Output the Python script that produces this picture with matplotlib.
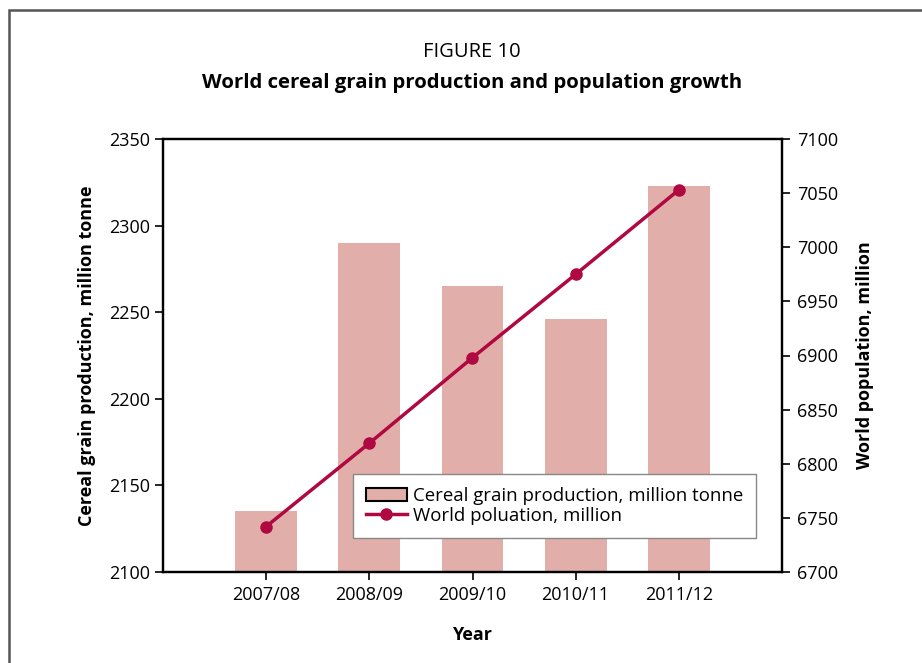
import matplotlib
matplotlib.use("Agg")
import matplotlib.pyplot as plt
from matplotlib.patches import Rectangle
from matplotlib.lines import Line2D
from matplotlib.patches import Patch

years = ["2007/08", "2008/09", "2009/10", "2010/11", "2011/12"]
cereal = [2135, 2290, 2265, 2246, 2323]
population = [6742, 6819, 6898, 6975, 7053]
left_ticks = [2100, 2150, 2200, 2250, 2300, 2350]
right_ticks = [6700, 6750, 6800, 6850, 6900, 6950, 7000, 7050, 7100]

plt.rcParams['font.family'] = ['Open Sans', 'DejaVu Sans']
W, H = 922, 663
fig = plt.figure(figsize=(W / 100, H / 100), dpi=100)

bar_color = "#E2AEAA"
line_color = "#B00840"

ax = fig.add_axes([163 / W, 1 - 572 / H, (782 - 163) / W, (572 - 139) / H])
x = list(range(len(years)))
ax.bar(x, cereal, width=0.6, color=bar_color, zorder=1)
ax.set_xlim(-1, 5)
ax.set_ylim(2100, 2350)
ax.set_yticks(left_ticks)
ax.set_xticks(x)
ax.set_xticklabels(years)
for s in ax.spines.values():
    s.set_linewidth(1.6)
ax.tick_params(axis='both', direction='out', length=6, width=1.2, labelsize=13, pad=4)
ax.tick_params(axis='y', pad=3)
ax.set_ylabel("Cereal grain production, million tonne", fontsize=13, fontweight='bold', labelpad=10)
ax.set_xlabel("Year", fontsize=13, fontweight='bold', labelpad=16)

ax2 = ax.twinx()
ax2.plot(x, population, color=line_color, lw=2.5, marker='o', markersize=8, zorder=3)
ax2.set_ylim(6700, 7100)
ax2.set_yticks(right_ticks)
ax2.tick_params(axis='y', direction='out', length=6, width=1.2, labelsize=13, pad=5)
for s in ax2.spines.values():
    s.set_linewidth(1.6)
ax2.set_ylabel("World population, million", fontsize=13, fontweight='bold', labelpad=13)

handles = [Patch(facecolor=bar_color, edgecolor='black', linewidth=1.5),
           Line2D([], [], color=line_color, lw=2.5, marker='o', markersize=8)]
labels = ["Cereal grain production, million tonne", "World poluation, million"]
leg = ax2.legend(handles, labels, loc='lower left',
                 bbox_to_anchor=((353 - 163) / (782 - 163), (572 - 538) / (572 - 139)),
                 fontsize=13.4, frameon=True, fancybox=False, edgecolor='#888888', framealpha=1,
                 handlelength=2.2, handletextpad=0.3, labelspacing=0.1, borderpad=0.7, borderaxespad=0)
leg.get_frame().set_linewidth(1.0)

fig.text(472 / W, 1 - 52 / H, "FIGURE 10", ha='center', va='center', fontsize=14.5)
fig.text(472 / W, 1 - 83 / H, "World cereal grain production and population growth",
         ha='center', va='center', fontsize=14.7, fontweight='bold')

frame = Rectangle((9 / W, -0.1), 1.2, 1 - 10 / H + 0.1, transform=fig.transFigure,
                  fill=False, edgecolor='#555555', linewidth=1.8)
fig.patches.append(frame)

fig.savefig("out.png", dpi=100)
